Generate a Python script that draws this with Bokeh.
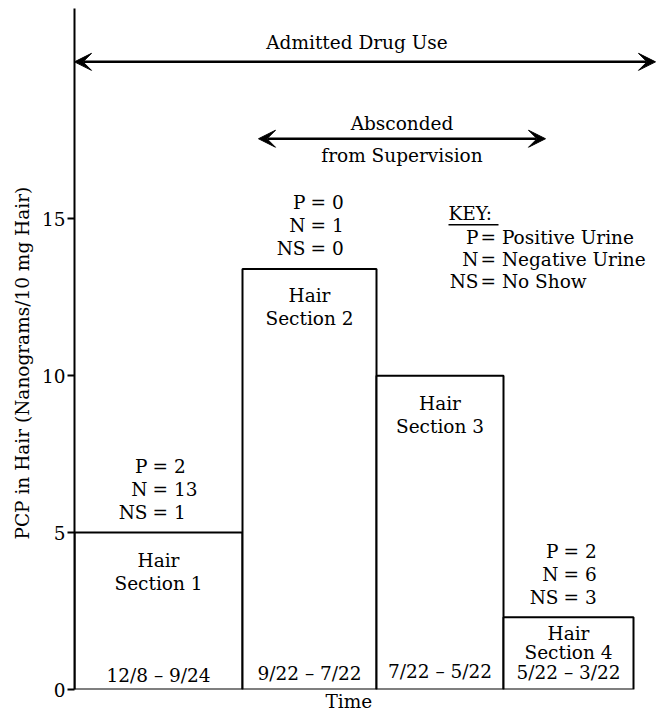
from bokeh.plotting import figure
from bokeh.models import Range1d, Arrow, VeeHead, Title, ColumnDataSource, FixedTicker
from bokeh.core.properties import value
from bokeh.embed import file_html
from bokeh.resources import INLINE

# ---------------- data ----------------
section_numbers = ["1", "2", "3", "4"]
period_start = [0, 168, 302, 429]          # time axis, relative units
period_end = [168, 302, 429, 559]
pcp_in_hair = [5.0, 13.4, 10.0, 2.3]       # nanograms / 10 mg hair
period_labels = ["12/8 – 9/24", "9/22 – 7/22", "7/22 – 5/22", "5/22 – 3/22"]
urine_positive = [2, 0, None, 2]
urine_negative = [13, 1, None, 6]
urine_no_show = [1, 0, None, 3]
y_ticks = [0, 5, 10, 15]
admitted_drug_use = [0, 581]
absconded = [184, 471]
key_codes = ["P", "N", "NS"]
key_meanings = ["Positive Urine", "Negative Urine", "No Show"]

# ---------------- styles ----------------
FONT = value("DejaVu Serif")
FS = "18.5px"
ARROW_Y_ADMITTED = 20.0
ARROW_Y_ABSCONDED = 17.55
KEY_X = 374
KEY_Y = 15.17

p = figure(width=656, height=718,
           x_range=Range1d(0, 582), y_range=Range1d(0, 21.7),
           output_backend="svg", toolbar_location=None,
           min_border_left=74, min_border_right=0,
           min_border_top=8, min_border_bottom=29)
p.outline_line_color = None
p.xgrid.visible = False
p.ygrid.visible = False
p.xaxis.visible = False

ax = p.yaxis[0]
ax.ticker = FixedTicker(ticks=y_ticks)
ax.axis_line_width = 2
ax.axis_line_color = "black"
ax.major_tick_in = 0
ax.major_tick_out = 7
ax.major_tick_line_width = 2
ax.major_tick_line_color = "black"
ax.minor_tick_line_color = None
ax.major_label_standoff = 2
ax.major_label_text_font = "DejaVu Serif"
ax.major_label_text_font_size = FS
ax.major_label_text_color = "black"

# bars
bars = ColumnDataSource(dict(left=period_start, right=period_end,
                             top=pcp_in_hair, bottom=[0] * len(pcp_in_hair)))
p.quad(left="left", right="right", bottom="bottom", top="top", source=bars,
       fill_color="white", line_color="black", line_width=2)

centers = [(a + b) / 2 for a, b in zip(period_start, period_end)]

# per-bar label offsets (pixels)
eq_shift = [1, 8, 0, 2]
hair_off = [28, 27, 28, 16]
sec_off = [51, 50, 51, 35]
date_off = [-14, -16, -18, -17]
count_off = [-66, -43, -20]

txt = dict(x=[], y=[], text=[], xo=[], yo=[], align=[])

def add(x, y, t, xo, yo, align="center"):
    txt["x"].append(x); txt["y"].append(y); txt["text"].append(t)
    txt["xo"].append(xo); txt["yo"].append(yo); txt["align"].append(align)

for i, c in enumerate(centers):
    top = pcp_in_hair[i]
    add(c, top, "Hair", 0, hair_off[i])
    add(c, top, "Section " + section_numbers[i], 0, sec_off[i])
    add(c, 0, period_labels[i], 0, date_off[i])
    if urine_positive[i] is not None:
        for code, val, off in zip(key_codes,
                                  [urine_positive[i], urine_negative[i], urine_no_show[i]],
                                  count_off):
            add(c, top, code, eq_shift[i] - 12, off, "right")
            add(c, top, "= %d" % val, eq_shift[i] - 7, off, "left")

# arrow captions
add(sum(admitted_drug_use) / 2 - 8, ARROW_Y_ADMITTED, "Admitted Drug Use", 0, -19)
add(sum(absconded) / 2, ARROW_Y_ABSCONDED, "Absconded", 0, -15)
add(sum(absconded) / 2, ARROW_Y_ABSCONDED, "from Supervision", 0, 17)

# key
add(KEY_X, KEY_Y, "KEY:", 0, 0, "left")
for code, meaning, off in zip(key_codes, key_meanings, [24, 46, 68]):
    add(KEY_X + 30, KEY_Y, code, 0, off, "right")
    add(KEY_X + 32, KEY_Y, "= " + meaning, 0, off, "left")

src = ColumnDataSource(txt)
p.text(x="x", y="y", text="text", x_offset="xo", y_offset="yo", text_align="align",
       text_baseline="alphabetic", text_font=FONT, text_font_size=FS,
       text_color="black", source=src)

# KEY underline
p.segment(x0=[KEY_X], x1=[KEY_X + 50], y0=[14.81], y1=[14.81],
          line_color="black", line_width=1.5)

# arrows
for (xs, xe), yy in [(admitted_drug_use, ARROW_Y_ADMITTED), (absconded, ARROW_Y_ABSCONDED)]:
    p.add_layout(Arrow(start=VeeHead(size=17, fill_color="black", line_color="black", line_width=1),
                       end=VeeHead(size=17, fill_color="black", line_color="black", line_width=1),
                       x_start=xs, y_start=yy, x_end=xe, y_end=yy,
                       line_width=2.5, line_color="black"))

# axis titles
p.add_layout(Title(text="PCP in Hair (Nanograms/10 mg Hair)", align="left", offset=150,
                   vertical_align="top", standoff=8,
                   text_font="DejaVu Serif", text_font_size=FS, text_font_style="normal",
                   text_color="black"), "left")
p.add_layout(Title(text="Time", align="left", offset=251,
                   vertical_align="top", standoff=2,
                   text_font="DejaVu Serif", text_font_size=FS, text_font_style="normal",
                   text_color="black"), "below")

open("out.html", "w").write(file_html(p, INLINE))
